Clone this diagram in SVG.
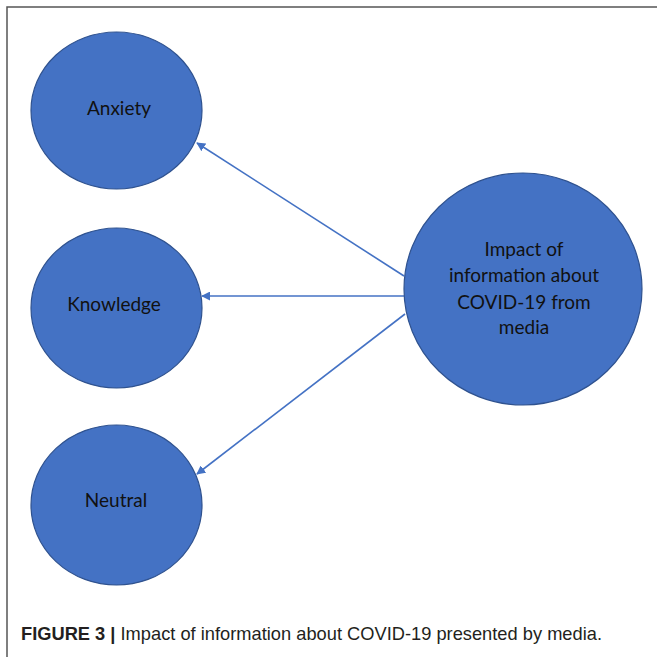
<svg xmlns="http://www.w3.org/2000/svg" width="657" height="657" viewBox="0 0 657 657">
<defs>
<style>
.node{fill:#4472C4;stroke:#2F528F;stroke-width:1.2}
.lbl{font-family:Lato,"Open Sans","Liberation Sans",sans-serif;font-size:19px;fill:#111;text-anchor:middle}
.edge{stroke:#4472C4;stroke-width:1.6;fill:none;marker-end:url(#ah)}
.cap{font-family:"Liberation Sans",Arial,sans-serif;font-size:18.5px;fill:#231f20}
</style>
<marker id="ah" viewBox="0 0 10 10" refX="9" refY="5" markerWidth="9" markerHeight="9" markerUnits="userSpaceOnUse" orient="auto">
<path d="M0,0 L10,5 L0,10 z" fill="#4472C4"/>
</marker>
</defs>
<rect width="657" height="657" fill="#fff"/>
<path d="M7,657 V7 H657" fill="none" stroke="#555" stroke-width="1.5"/>
<g id="connectors">
<line class="edge" x1="404" y1="276" x2="197" y2="143"/>
<line class="edge" x1="404" y1="296" x2="202" y2="296"/>
<line class="edge" x1="405" y1="314" x2="197" y2="474"/>
</g>
<g id="anxiety">
<ellipse class="node" cx="116.5" cy="110.5" rx="85.5" ry="78.5"/>
<text class="lbl" x="119" y="115">Anxiety</text>
</g>
<g id="knowledge">
<ellipse class="node" cx="116.5" cy="308" rx="85.5" ry="80"/>
<text class="lbl" x="114" y="311">Knowledge</text>
</g>
<g id="neutral">
<ellipse class="node" cx="116.5" cy="505" rx="85.5" ry="80"/>
<text class="lbl" x="116" y="507">Neutral</text>
</g>
<g id="impact">
<ellipse class="node" cx="523" cy="289" rx="119" ry="116"/>
<text class="lbl" x="524" y="256">Impact of</text>
<text class="lbl" x="524" y="282">information about</text>
<text class="lbl" x="524" y="309">COVID-19 from</text>
<text class="lbl" x="524" y="334">media</text>
</g>
<text class="cap" x="21" y="640" textLength="581" lengthAdjust="spacingAndGlyphs"><tspan font-weight="bold">FIGURE 3 |</tspan> Impact of information about COVID-19 presented by media.</text>
</svg>
